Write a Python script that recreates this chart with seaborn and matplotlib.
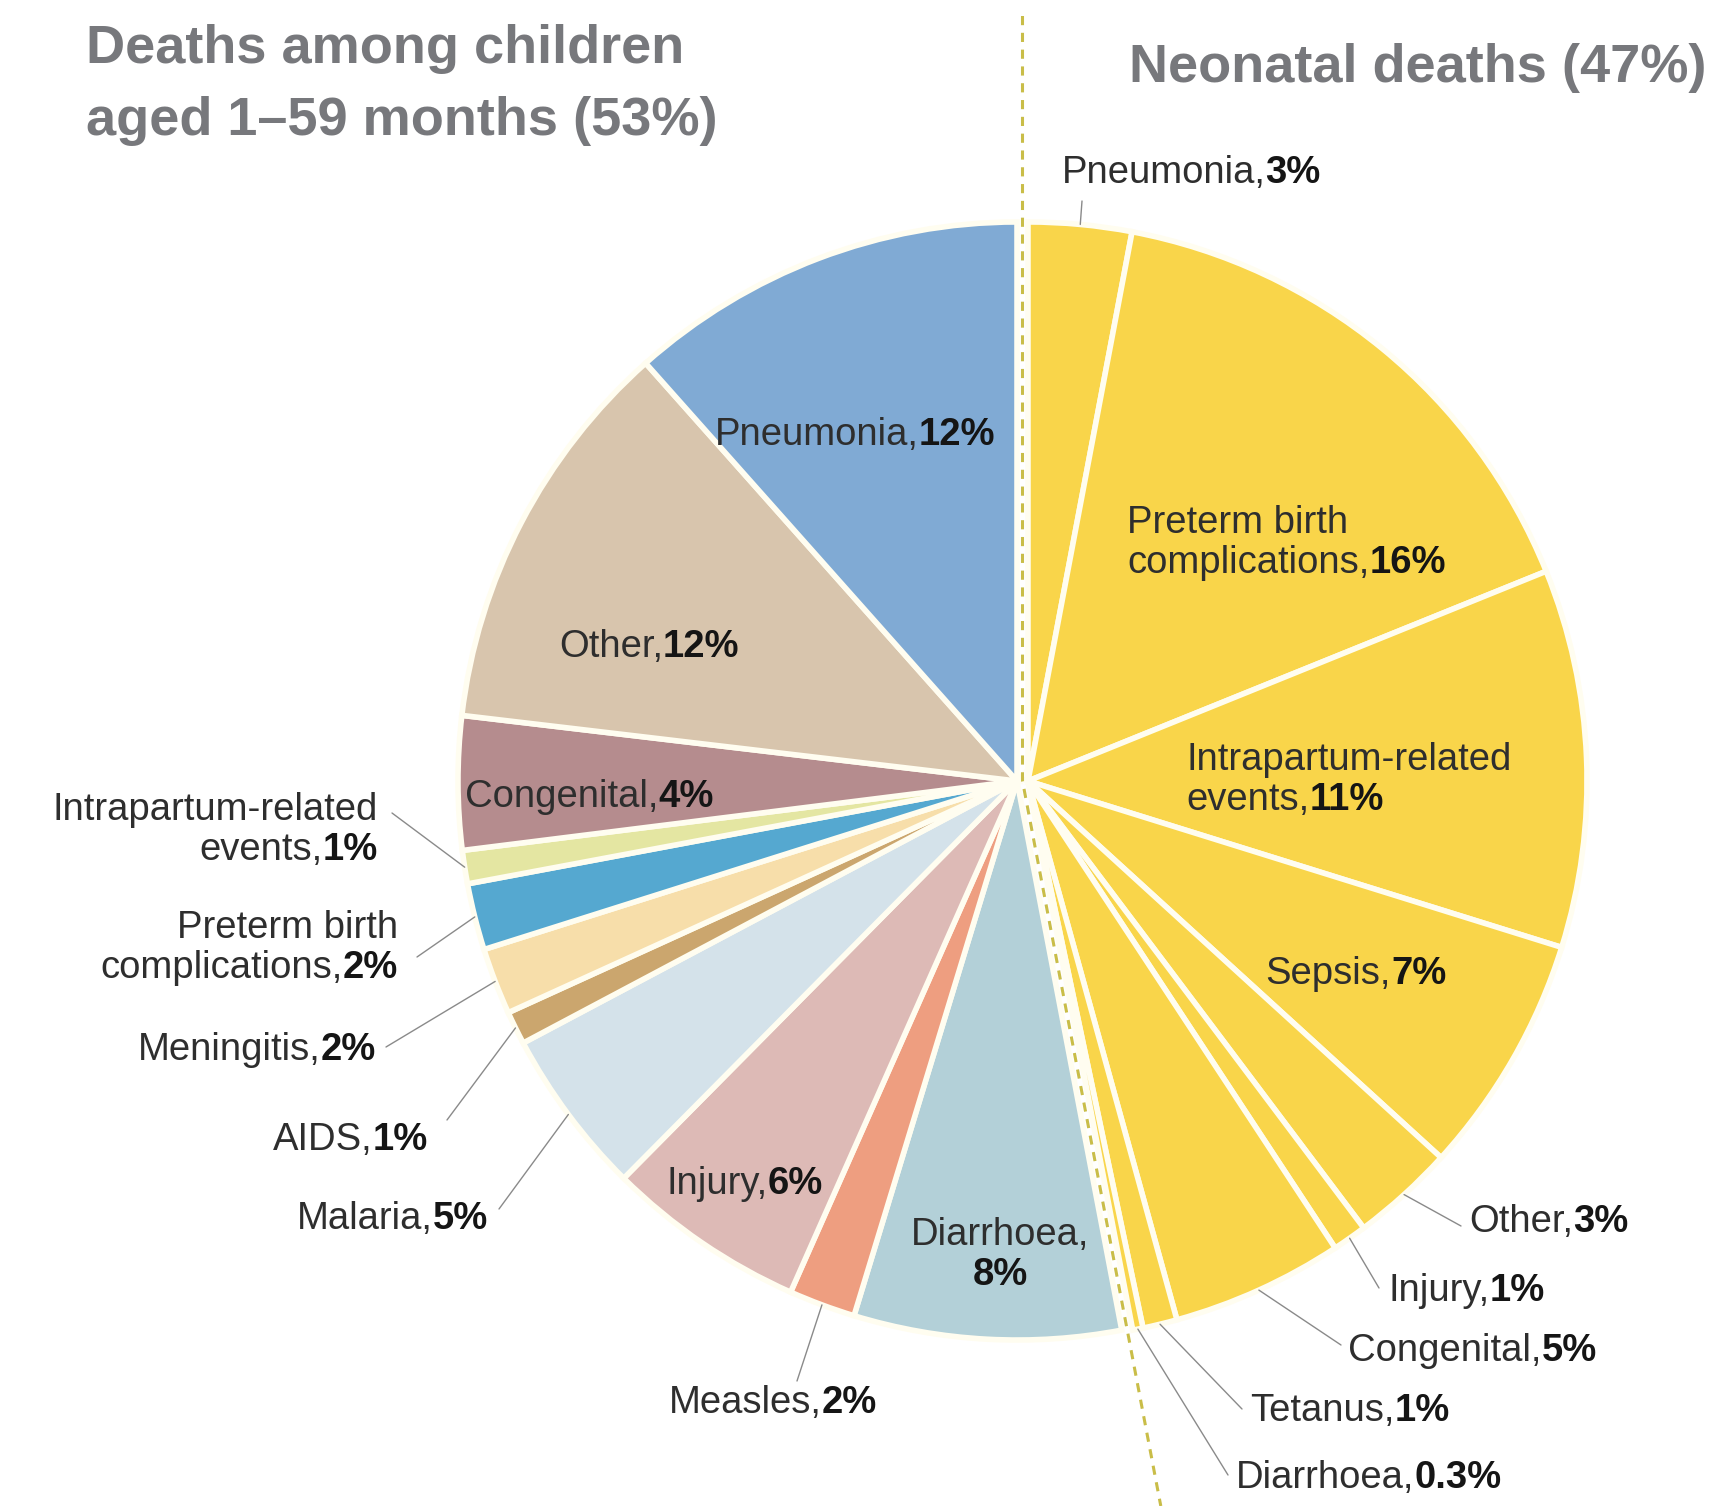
import numpy as np
import matplotlib.pyplot as plt
import seaborn as sns
from matplotlib.offsetbox import TextArea, HPacker, VPacker, AnnotationBbox

# causes of death, percent of all under-5 deaths
neo_causes = ['Pneumonia', 'Preterm birth\ncomplications', 'Intrapartum-related\nevents',
              'Sepsis', 'Other', 'Injury', 'Congenital', 'Tetanus', 'Diarrhoea']
neo_pct = [3, 16, 11, 7, 3, 1, 5, 1, 0.3]
child_causes = ['Diarrhoea', 'Measles', 'Injury', 'Malaria', 'AIDS', 'Meningitis',
                'Preterm birth\ncomplications', 'Intrapartum-related\nevents',
                'Congenital', 'Other', 'Pneumonia']
child_pct = [8, 2, 6, 5, 1, 2, 2, 1, 4, 12, 12]
neo_share = 47
child_share = 53

neo_color = '#F9D54A'
child_colors = ['#B3D0D8', '#EE9E80', '#DDBAB6', '#D4E2EA', '#CBA66E', '#F7DEAA',
                '#55A8D0', '#E4E6A2', '#B58C8E', '#D8C5AD', '#80AAD4']

W, H = 1719, 1506
cx, cy, r = 1017, H - 781, 559
shift = 11

sns.set_theme(style='white')
plt.rcParams['font.family'] = ['Liberation Sans', 'DejaVu Sans']

fig = plt.figure(figsize=(W / 100, H / 100), dpi=100)
ax = fig.add_axes([0, 0, 1, 1])

edge = dict(edgecolor='#FFFDF0', linewidth=4)
neo_frac = np.array(neo_pct) / sum(neo_pct) * neo_share / 100
child_frac = np.array(child_pct) / sum(child_pct) * child_share / 100
neo_w, _ = ax.pie(neo_frac, colors=[neo_color] * len(neo_pct), startangle=90,
                  counterclock=False, normalize=False, radius=r,
                  center=(cx + shift, cy), wedgeprops=edge)
split = 90 - neo_share / 100 * 360
child_w, _ = ax.pie(child_frac, colors=child_colors, startangle=split,
                    counterclock=False, normalize=False, radius=r,
                    center=(cx, cy), wedgeprops=edge)

# split line
x0 = cx + shift / 2
a = np.deg2rad(split)
L = cy / -np.sin(a)
ax.plot([x0, x0, x0 + L * np.cos(a)], [H - 16, cy, 0], color='#C9BD48',
        lw=2.2, ls=(0, (3, 2.5)), zorder=5)

FS = 27.5
reg = dict(fontsize=FS, color='#2E2E2E')
bold = dict(fontsize=FS, color='#151515', fontweight='bold')


def fmt(p):
    return f'{p:g}%'


def label(name, pct, x, y, ha, wrap=False):
    lines = (name + ',').split('\n')
    if wrap:
        lines.append('')
    rows = []
    for i, ln in enumerate(lines):
        kids = [TextArea(ln, textprops=reg)] if ln else []
        if i == len(lines) - 1:
            kids.append(TextArea(fmt(pct), textprops=bold))
        rows.append(HPacker(children=kids, pad=0, sep=0, align='baseline'))
    box = VPacker(children=rows, pad=0, sep=3, align=ha)
    bx = {'left': 0, 'right': 1, 'center': 0.5}[ha]
    ab = AnnotationBbox(box, (x, H - y), xycoords='data', frameon=False,
                        box_alignment=(bx, 0.5), pad=0)
    ax.add_artist(ab)


def edge_point(w):
    t = np.deg2rad((w.theta1 + w.theta2) / 2)
    return w.center[0] + w.r * np.cos(t), w.center[1] + w.r * np.sin(t)


def leader(w, start):
    px, py = edge_point(w)
    ax.plot([start[0], px], [H - start[1], py], color='#8A8A8A', lw=1, zorder=4)


# label placement: x, y (pixels from top), alignment, leader start
neo_layout = [
    (1191, 173, 'center', (1082, 201)),
    (1127, 543, 'left', None),
    (1186, 780, 'left', None),
    (1356, 974, 'center', None),
    (1469, 1222, 'left', (1461, 1226)),
    (1388, 1291, 'left', (1379, 1288)),
    (1348, 1351, 'left', (1341, 1345)),
    (1250, 1411, 'left', (1242, 1409)),
    (1236, 1478, 'left', (1228, 1475)),
]
child_layout = [
    (1000, 1255, 'center', None),
    (773, 1403, 'center', (797, 1381)),
    (745, 1184, 'center', None),
    (488, 1219, 'right', (499, 1209)),
    (428, 1140, 'right', (447, 1120)),
    (376, 1050, 'right', (386, 1047)),
    (398, 948, 'right', (417, 957)),
    (378, 830, 'right', (392, 813)),
    (589, 797, 'center', None),
    (649, 647, 'center', None),
    (855, 435, 'center', None),
]

for w, name, p, (x, y, ha, st) in zip(neo_w, neo_causes, neo_pct, neo_layout):
    label(name, p, x, y, ha)
    if st:
        leader(w, st)
for i, (w, name, p, (x, y, ha, st)) in enumerate(zip(child_w, child_causes, child_pct, child_layout)):
    label(name, p, x, y, ha, wrap=(i == 0))
    if st:
        leader(w, st)

title_kw = dict(fontsize=39, fontweight='bold', color='#77787C', va='center')
ax.text(86, H - 49, 'Deaths among children', ha='left', **title_kw)
ax.text(86, H - 121, 'aged 1\u201359 months (53%)', ha='left', **title_kw)
ax.text(1129, H - 68, 'Neonatal deaths (47%)', ha='left', **title_kw)

ax.set_xlim(0, W)
ax.set_ylim(0, H)
ax.set_aspect('equal')
ax.axis('off')
fig.savefig('out.png', dpi=100, facecolor='white')
